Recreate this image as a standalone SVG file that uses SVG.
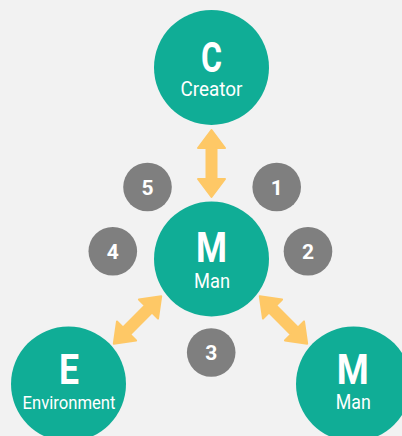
<svg xmlns="http://www.w3.org/2000/svg" width="402" height="436" viewBox="0 0 402 436">
<defs>
<style>
.node{fill:#10ad96}
.num{fill:#7f7f7f}
.big{font-family:Roboto,"Liberation Sans",sans-serif;font-weight:bold;font-size:43px;fill:#fff;text-anchor:middle}
.lbl{font-family:Roboto,"Liberation Sans",sans-serif;font-size:21px;fill:#fff;text-anchor:middle}
.n{font-family:Roboto,"Liberation Sans",sans-serif;font-weight:bold;font-size:21px;fill:#fff;text-anchor:middle}
.arr{fill:#fec866;stroke:#fec866;stroke-width:2;stroke-linejoin:round}
</style>
<path id="dbl" d="M -33.5 0 L -15.5 -13.5 L -15.5 -5 L 15.5 -5 L 15.5 -13.5 L 33.5 0 L 15.5 13.5 L 15.5 5 L -15.5 5 L -15.5 13.5 Z"/>
</defs>
<rect width="402" height="436" fill="#f2f2f2"/>
<g id="connectors">
<use href="#dbl" class="arr" transform="translate(211.5,163.5) rotate(90)"/>
<use href="#dbl" class="arr" transform="translate(137.5,320) rotate(-45)"/>
<use href="#dbl" class="arr" transform="translate(283.5,320) rotate(45)"/>
</g>
<g id="node-creator">
<circle class="node" cx="211.5" cy="67.5" r="57.5"/>
<text class="big" x="211.5" y="71.7" textLength="21" lengthAdjust="spacingAndGlyphs">C</text>
<text class="lbl" x="211.5" y="95.7" textLength="62" lengthAdjust="spacingAndGlyphs">Creator</text>
</g>
<g id="node-man-center">
<circle class="node" cx="211.5" cy="259" r="57.5"/>
<text class="big" x="211.5" y="261.7" textLength="31" lengthAdjust="spacingAndGlyphs">M</text>
<text class="lbl" x="212" y="287.7" textLength="36" lengthAdjust="spacingAndGlyphs">Man</text>
</g>
<g id="node-environment">
<circle class="node" cx="68.5" cy="384" r="57.5"/>
<text class="big" x="69" y="384.3" textLength="20" lengthAdjust="spacingAndGlyphs">E</text>
<text class="lbl" x="69" y="409.3" style="font-size:18.5px" textLength="93" lengthAdjust="spacingAndGlyphs">Environment</text>
</g>
<g id="node-man-right">
<circle class="node" cx="353.5" cy="384" r="57.5"/>
<text class="big" x="352.8" y="384.3" textLength="32" lengthAdjust="spacingAndGlyphs">M</text>
<text class="lbl" x="353.3" y="409" textLength="35" lengthAdjust="spacingAndGlyphs">Man</text>
</g>
<g id="num-1"><circle class="num" cx="276.7" cy="187" r="24.3"/><text class="n" x="276.7" y="194.5">1</text></g>
<g id="num-2"><circle class="num" cx="308" cy="251.3" r="24.3"/><text class="n" x="308" y="258.8">2</text></g>
<g id="num-3"><circle class="num" cx="211.2" cy="352.5" r="24.3"/><text class="n" x="211.2" y="360">3</text></g>
<g id="num-4"><circle class="num" cx="112.8" cy="251.3" r="24.3"/><text class="n" x="112.8" y="258.8">4</text></g>
<g id="num-5"><circle class="num" cx="147.5" cy="187" r="24.3"/><text class="n" x="147.5" y="194.5">5</text></g>
</svg>
